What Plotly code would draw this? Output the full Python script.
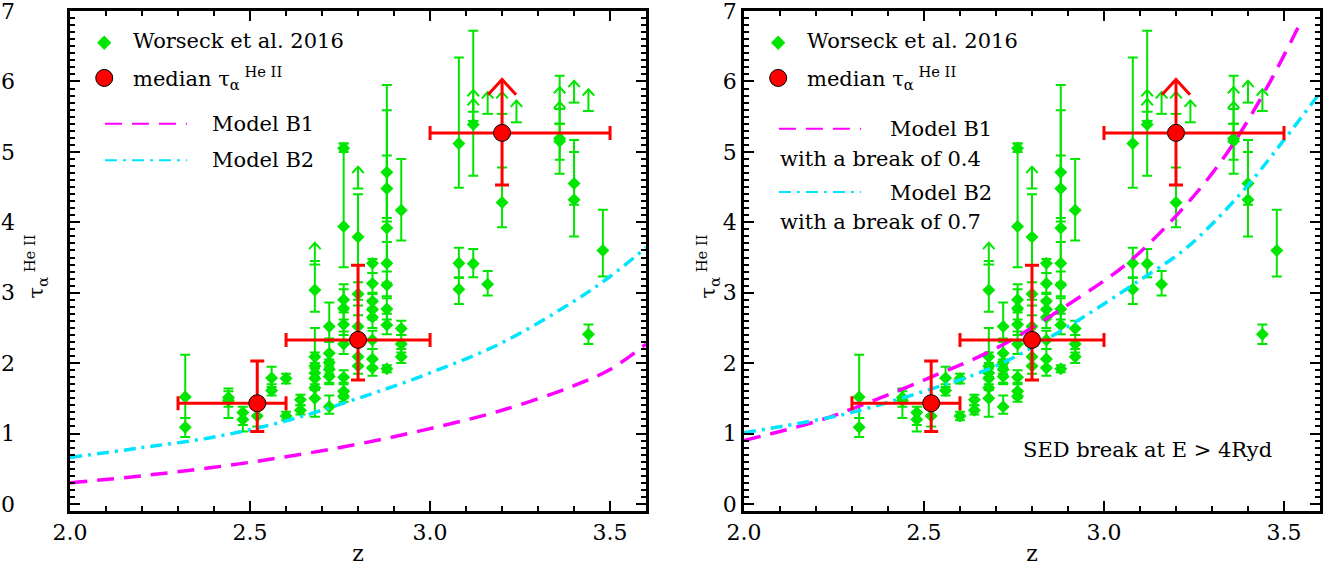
import plotly.graph_objects as go

# ---------------- data ----------------
w16_z = [2.32, 2.32, 2.44, 2.44, 2.48, 2.48, 2.52, 2.56, 2.56, 2.60, 2.60, 2.64, 2.64,
         2.68, 2.68, 2.68, 2.68, 2.68, 2.68, 2.68,
         2.72, 2.72, 2.72, 2.72, 2.72, 2.72,
         2.76, 2.76, 2.76, 2.76, 2.76, 2.76, 2.76, 2.76, 2.76,
         2.80, 2.80, 2.80, 2.80, 2.80,
         2.84, 2.84, 2.84, 2.84, 2.84, 2.84, 2.84, 2.84,
         2.88, 2.88, 2.88, 2.88, 2.88, 2.88, 2.88, 2.88,
         2.92, 2.92, 2.92, 2.92,
         3.08, 3.08, 3.08, 3.12, 3.12, 3.16, 3.20,
         3.36, 3.36, 3.40, 3.40, 3.44, 3.48]
w16_tau = [1.52, 1.09, 1.51, 1.47, 1.30, 1.20, 1.25, 1.79, 1.61, 1.78, 1.25, 1.48, 1.33,
           3.04, 2.09, 1.96, 1.86, 1.78, 1.65, 1.50,
           2.52, 2.14, 2.01, 1.91, 1.81, 1.38,
           5.05, 3.94, 2.90, 2.78, 2.55, 2.27, 1.80, 1.60, 1.53,
           3.79, 2.98, 2.52, 2.09, 1.96,
           3.42, 3.13, 2.88, 2.76, 2.65, 2.33, 2.06, 1.93,
           4.71, 4.48, 3.92, 3.42, 3.11, 2.77, 2.54, 1.92,
           4.17, 2.49, 2.27, 2.09,
           5.12, 3.42, 3.05, 5.39, 3.41, 3.12, 4.28,
           5.19, 5.15, 4.55, 4.32, 2.41, 3.60]
w16_lo = [1.22, 0.95, 1.22, 1.38, 1.12, 1.03, 1.10, 1.66, 1.54, 1.71, 1.19, 1.40, 1.27,
          2.73, 1.95, 1.80, 1.70, 1.62, 1.50, 1.24,
          2.35, 1.98, 1.85, 1.72, 1.70, 1.28,
          5.00, 3.36, 2.75, 2.62, 2.40, 2.13, 1.70, 1.50, 1.45,
          2.90, 2.82, 2.38, 1.95, 1.85,
          3.28, 2.98, 2.75, 2.62, 2.50, 2.20, 1.95, 1.82,
          4.06, 4.01, 3.42, 3.14, 2.95, 2.62, 2.41, 1.87,
          3.74, 2.40, 2.15, 2.00,
          4.49, 3.22, 2.84, 4.66, 3.22, 2.96, 3.93,
          4.69, 4.89, 4.25, 3.80, 2.27, 3.23]
w16_hi = [2.12, 1.22, 1.64, 1.60, 1.38, 1.30, 1.36, 1.95, 1.70, 1.85, 1.31, 1.55, 1.40,
          3.45, 2.50, 2.15, 2.00, 1.92, 1.80, 1.62,
          2.86, 2.30, 2.15, 2.05, 1.95, 1.54,
          5.12, 5.12, 3.12, 3.05, 2.72, 2.45, 1.90, 1.72, 1.62,
          4.40, 3.15, 2.68, 2.25, 2.10,
          3.48, 3.28, 3.00, 2.90, 2.78, 2.46, 2.20, 2.05,
          5.95, 5.59, 4.95, 3.72, 3.30, 2.92, 2.70, 1.97,
          4.90, 2.60, 2.40, 2.20,
          6.34, 3.64, 3.21, 6.72, 3.62, 3.31, 4.78,
          6.08, 5.40, 5.17, 5.00, 2.55, 4.18]

# lower limits (arrows)
lim_z = [2.68, 2.80, 3.12, 3.12, 3.16, 3.20, 3.24, 3.36, 3.36, 3.40, 3.44]
lim_tau = [3.40, 4.48, 5.57, 5.44, 5.54, 5.54, 5.42, 5.61, 5.40, 5.70, 5.58]

# medians
med_z = [2.52, 2.80, 3.20]
med_tau = [1.43, 2.33, 5.27]
med_zlo = [2.30, 2.60, 3.00]
med_zhi = [2.60, 3.00, 3.50]
med_taulo = [1.03, 1.76, 4.53]
med_tauhi = [2.03, 3.39, 5.27]
med_limit_tip = [None, None, 6.03]

# models, left panel
b1_z = [2.0, 2.2, 2.4, 2.6, 2.8, 3.0, 3.2, 3.4, 3.5, 3.6]
b1_tau = [0.30, 0.40, 0.52, 0.67, 0.85, 1.07, 1.33, 1.68, 1.91, 2.27]
b2_z = [2.0, 2.2, 2.4, 2.6, 2.8, 3.0, 3.2, 3.4, 3.5, 3.6]
b2_tau = [0.66, 0.80, 0.95, 1.18, 1.50, 1.86, 2.29, 2.88, 3.23, 3.64]
# models with break, right panel
b1b_z = [2.0, 2.2, 2.3, 2.5, 2.7, 2.9, 3.07, 3.23, 3.34, 3.45, 3.55]
b1b_tau = [0.90, 1.17, 1.35, 1.76, 2.21, 2.83, 3.44, 4.26, 4.97, 5.89, 6.88]
b2b_z = [2.0, 2.2, 2.3, 2.5, 2.7, 2.9, 3.1, 3.23, 3.38, 3.5, 3.6]
b2b_tau = [1.01, 1.19, 1.30, 1.60, 1.96, 2.52, 3.18, 3.64, 4.41, 5.17, 5.84]

x_ticks = [2.0, 2.5, 3.0, 3.5]
y_ticks = [0, 1, 2, 3, 4, 5, 6, 7]

# ---------------- style ----------------
GREEN = "#00E600"
RED = "#FF0000"
MAGENTA = "#FF00FF"
CYAN = "#00E5FF"
FONT = "DejaVu Serif"
FS = 21
W, H = 1334, 567
ARROW_LEN = 0.31
HEAD_DZ = 0.016
HEAD_DT = 0.09
CAP_DZ = 0.015
Y_DOMAIN = [0.0988, 0.9806]

fig = go.Figure()


def arrow_segments(zs, bases, tips, dz, dt, cap):
    xs, ys = [], []
    for z, b, t in zip(zs, bases, tips):
        if cap:
            xs += [z - CAP_DZ, z + CAP_DZ, None]
            ys += [b, b, None]
        xs += [z, z, None, z - dz, z, z + dz, None]
        ys += [b, t, None, t - dt, t, t - dt, None]
    return xs, ys


for p, (mz1, mt1, mz2, mt2) in enumerate([(b1_z, b1_tau, b2_z, b2_tau),
                                          (b1b_z, b1b_tau, b2b_z, b2b_tau)]):
    xa = "x" if p == 0 else "x2"
    ya = "y" if p == 0 else "y2"
    fig.add_trace(go.Scatter(
        x=w16_z, y=w16_tau, mode="markers",
        marker=dict(symbol="diamond", size=10, color=GREEN, line=dict(width=0)),
        error_y=dict(type="data", symmetric=False,
                     array=[h - t for h, t in zip(w16_hi, w16_tau)],
                     arrayminus=[t - l for t, l in zip(w16_tau, w16_lo)],
                     color=GREEN, thickness=2, width=5),
        xaxis=xa, yaxis=ya, showlegend=False, hoverinfo="skip"))
    ax, ay = arrow_segments(lim_z, lim_tau, [t + ARROW_LEN for t in lim_tau],
                            HEAD_DZ, HEAD_DT, True)
    fig.add_trace(go.Scatter(x=ax, y=ay, mode="lines",
                             line=dict(color=GREEN, width=2),
                             xaxis=xa, yaxis=ya, showlegend=False, hoverinfo="skip"))
    fig.add_trace(go.Scatter(x=mz1, y=mt1, mode="lines", line_shape="spline",
                             line=dict(color=MAGENTA, width=3.5, dash="17px,10px"),
                             xaxis=xa, yaxis=ya, showlegend=False, hoverinfo="skip"))
    fig.add_trace(go.Scatter(x=mz2, y=mt2, mode="lines", line_shape="spline",
                             line=dict(color=CYAN, width=3.5, dash="12px,6px,3px,6px"),
                             xaxis=xa, yaxis=ya, showlegend=False, hoverinfo="skip"))
    rz = [z for z, t in zip(med_z, med_limit_tip) if t is not None]
    rb = [b for b, t in zip(med_tau, med_limit_tip) if t is not None]
    rt = [t for t in med_limit_tip if t is not None]
    rx, ry = arrow_segments(rz, rb, rt, 0.039, 0.22, False)
    fig.add_trace(go.Scatter(x=rx, y=ry, mode="lines", line=dict(color=RED, width=3),
                             xaxis=xa, yaxis=ya, showlegend=False, hoverinfo="skip"))
    fig.add_trace(go.Scatter(
        x=med_z, y=med_tau, mode="markers",
        marker=dict(symbol="circle", size=17, color=RED, line=dict(color="black", width=1)),
        error_x=dict(type="data", symmetric=False,
                     array=[h - z for h, z in zip(med_zhi, med_z)],
                     arrayminus=[z - l for z, l in zip(med_z, med_zlo)],
                     color=RED, thickness=3, width=7),
        error_y=dict(type="data", symmetric=False,
                     array=[h - t for h, t in zip(med_tauhi, med_tau)],
                     arrayminus=[t - l for t, l in zip(med_tau, med_taulo)],
                     color=RED, thickness=3, width=7),
        xaxis=xa, yaxis=ya, showlegend=False, hoverinfo="skip"))
    # legend symbols
    fig.add_trace(go.Scatter(x=[2.095], y=[6.55], mode="markers",
                             marker=dict(symbol="diamond", size=11, color=GREEN),
                             xaxis=xa, yaxis=ya, showlegend=False, hoverinfo="skip"))
    fig.add_trace(go.Scatter(x=[2.095], y=[6.05], mode="markers",
                             marker=dict(symbol="circle", size=17, color=RED,
                                         line=dict(color="black", width=1)),
                             xaxis=xa, yaxis=ya, showlegend=False, hoverinfo="skip"))

# ---------------- legend texts/lines ----------------
ann = []
shapes = []
tf = dict(family=FONT, size=FS, color="black")
for xa, ya in (("x", "y"), ("x2", "y2")):
    ann.append(dict(x=2.17, y=6.57, xref=xa, yref=ya, text="Worseck et al. 2016",
                    showarrow=False, xanchor="left", yanchor="middle", font=tf))
    ann.append(dict(x=2.17, y=6.05, xref=xa, yref=ya,
                    text="median τ<sub>α</sub><sup> He II</sup>",
                    showarrow=False, xanchor="left", yanchor="middle", font=tf))

shapes.append(dict(type="line", xref="x", yref="y", x0=2.097, x1=2.325, y0=5.40, y1=5.40,
                   line=dict(color=MAGENTA, width=2, dash="17px,10px")))
shapes.append(dict(type="line", xref="x", yref="y", x0=2.097, x1=2.325, y0=4.88, y1=4.88,
                   line=dict(color=CYAN, width=2, dash="12px,6px,3px,6px")))
ann.append(dict(x=2.39, y=5.40, xref="x", yref="y", text="Model B1", showarrow=False,
                xanchor="left", yanchor="middle", font=tf))
ann.append(dict(x=2.39, y=4.88, xref="x", yref="y", text="Model B2", showarrow=False,
                xanchor="left", yanchor="middle", font=tf))
shapes.append(dict(type="line", xref="x2", yref="y2", x0=2.097, x1=2.325, y0=5.33, y1=5.33,
                   line=dict(color=MAGENTA, width=2, dash="17px,10px")))
shapes.append(dict(type="line", xref="x2", yref="y2", x0=2.097, x1=2.325, y0=4.43, y1=4.43,
                   line=dict(color=CYAN, width=2, dash="12px,6px,3px,6px")))
ann.append(dict(x=2.40, y=5.32, xref="x2", yref="y2", text="Model B1", showarrow=False,
                xanchor="left", yanchor="middle", font=tf))
ann.append(dict(x=2.095, y=4.90, xref="x2", yref="y2", text="with a break of 0.4",
                showarrow=False, xanchor="left", yanchor="middle", font=tf))
ann.append(dict(x=2.40, y=4.42, xref="x2", yref="y2", text="Model B2", showarrow=False,
                xanchor="left", yanchor="middle", font=tf))
ann.append(dict(x=2.095, y=4.00, xref="x2", yref="y2", text="with a break of 0.7",
                showarrow=False, xanchor="left", yanchor="middle", font=tf))
ann.append(dict(x=2.77, y=0.76, xref="x2", yref="y2", text="SED break at E > 4Ryd",
                showarrow=False, xanchor="left", yanchor="middle", font=tf))

# y-axis titles
for xp in (36 / W, 708 / W):
    ann.append(dict(x=xp, y=0.53, xref="paper", yref="paper", textangle=-90,
                    text="τ<sub>α</sub><sup> He II</sup>", showarrow=False,
                    xanchor="center", yanchor="middle", font=tf))


def xaxis(domain, anchor):
    return dict(domain=domain, range=[2.0, 3.6], tickvals=x_ticks, anchor=anchor,
                ticktext=[f"{v:.1f}" for v in x_ticks], automargin=False,
                ticklabeloverflow="allow",
                ticks="inside", ticklen=10, tickwidth=2, tickcolor="black",
                showline=True, linewidth=2.5, linecolor="black", mirror="allticks",
                showgrid=False, zeroline=False,
                minor=dict(dtick=0.1, tick0=2.0, ticks="inside", ticklen=5,
                           tickwidth=1.5, tickcolor="black", showgrid=False),
                tickfont=dict(family=FONT, size=22, color="black"),
                title=dict(text="z", font=dict(family=FONT, size=22, color="black"),
                           standoff=2))


def yaxis(anchor, standoff):
    return dict(domain=Y_DOMAIN, range=[-0.1, 7.001], tickvals=y_ticks,
                ticks="inside", ticklen=10, tickwidth=2, tickcolor="black",
                showline=True, linewidth=2.5, linecolor="black", mirror="allticks",
                showgrid=False, zeroline=False, anchor=anchor, automargin=False,
                ticklabelstandoff=standoff, ticklabeloverflow="allow",
                minor=dict(dtick=0.1, tick0=0, ticks="inside", ticklen=5,
                           tickwidth=1.5, tickcolor="black", showgrid=False),
                tickfont=dict(family=FONT, size=22, color="black"))


fig.update_layout(
    width=W, height=H,
    margin=dict(l=0, r=0, t=0, b=0),
    paper_bgcolor="white", plot_bgcolor="white",
    xaxis=xaxis([0.0525, 0.4843], "y"),
    xaxis2=xaxis([0.5577, 0.9895], "y2"),
    yaxis=yaxis("x", 48),
    yaxis2=yaxis("x2", 0),
    annotations=ann,
    shapes=shapes,
    showlegend=False,
)

fig.write_html("out.html")
